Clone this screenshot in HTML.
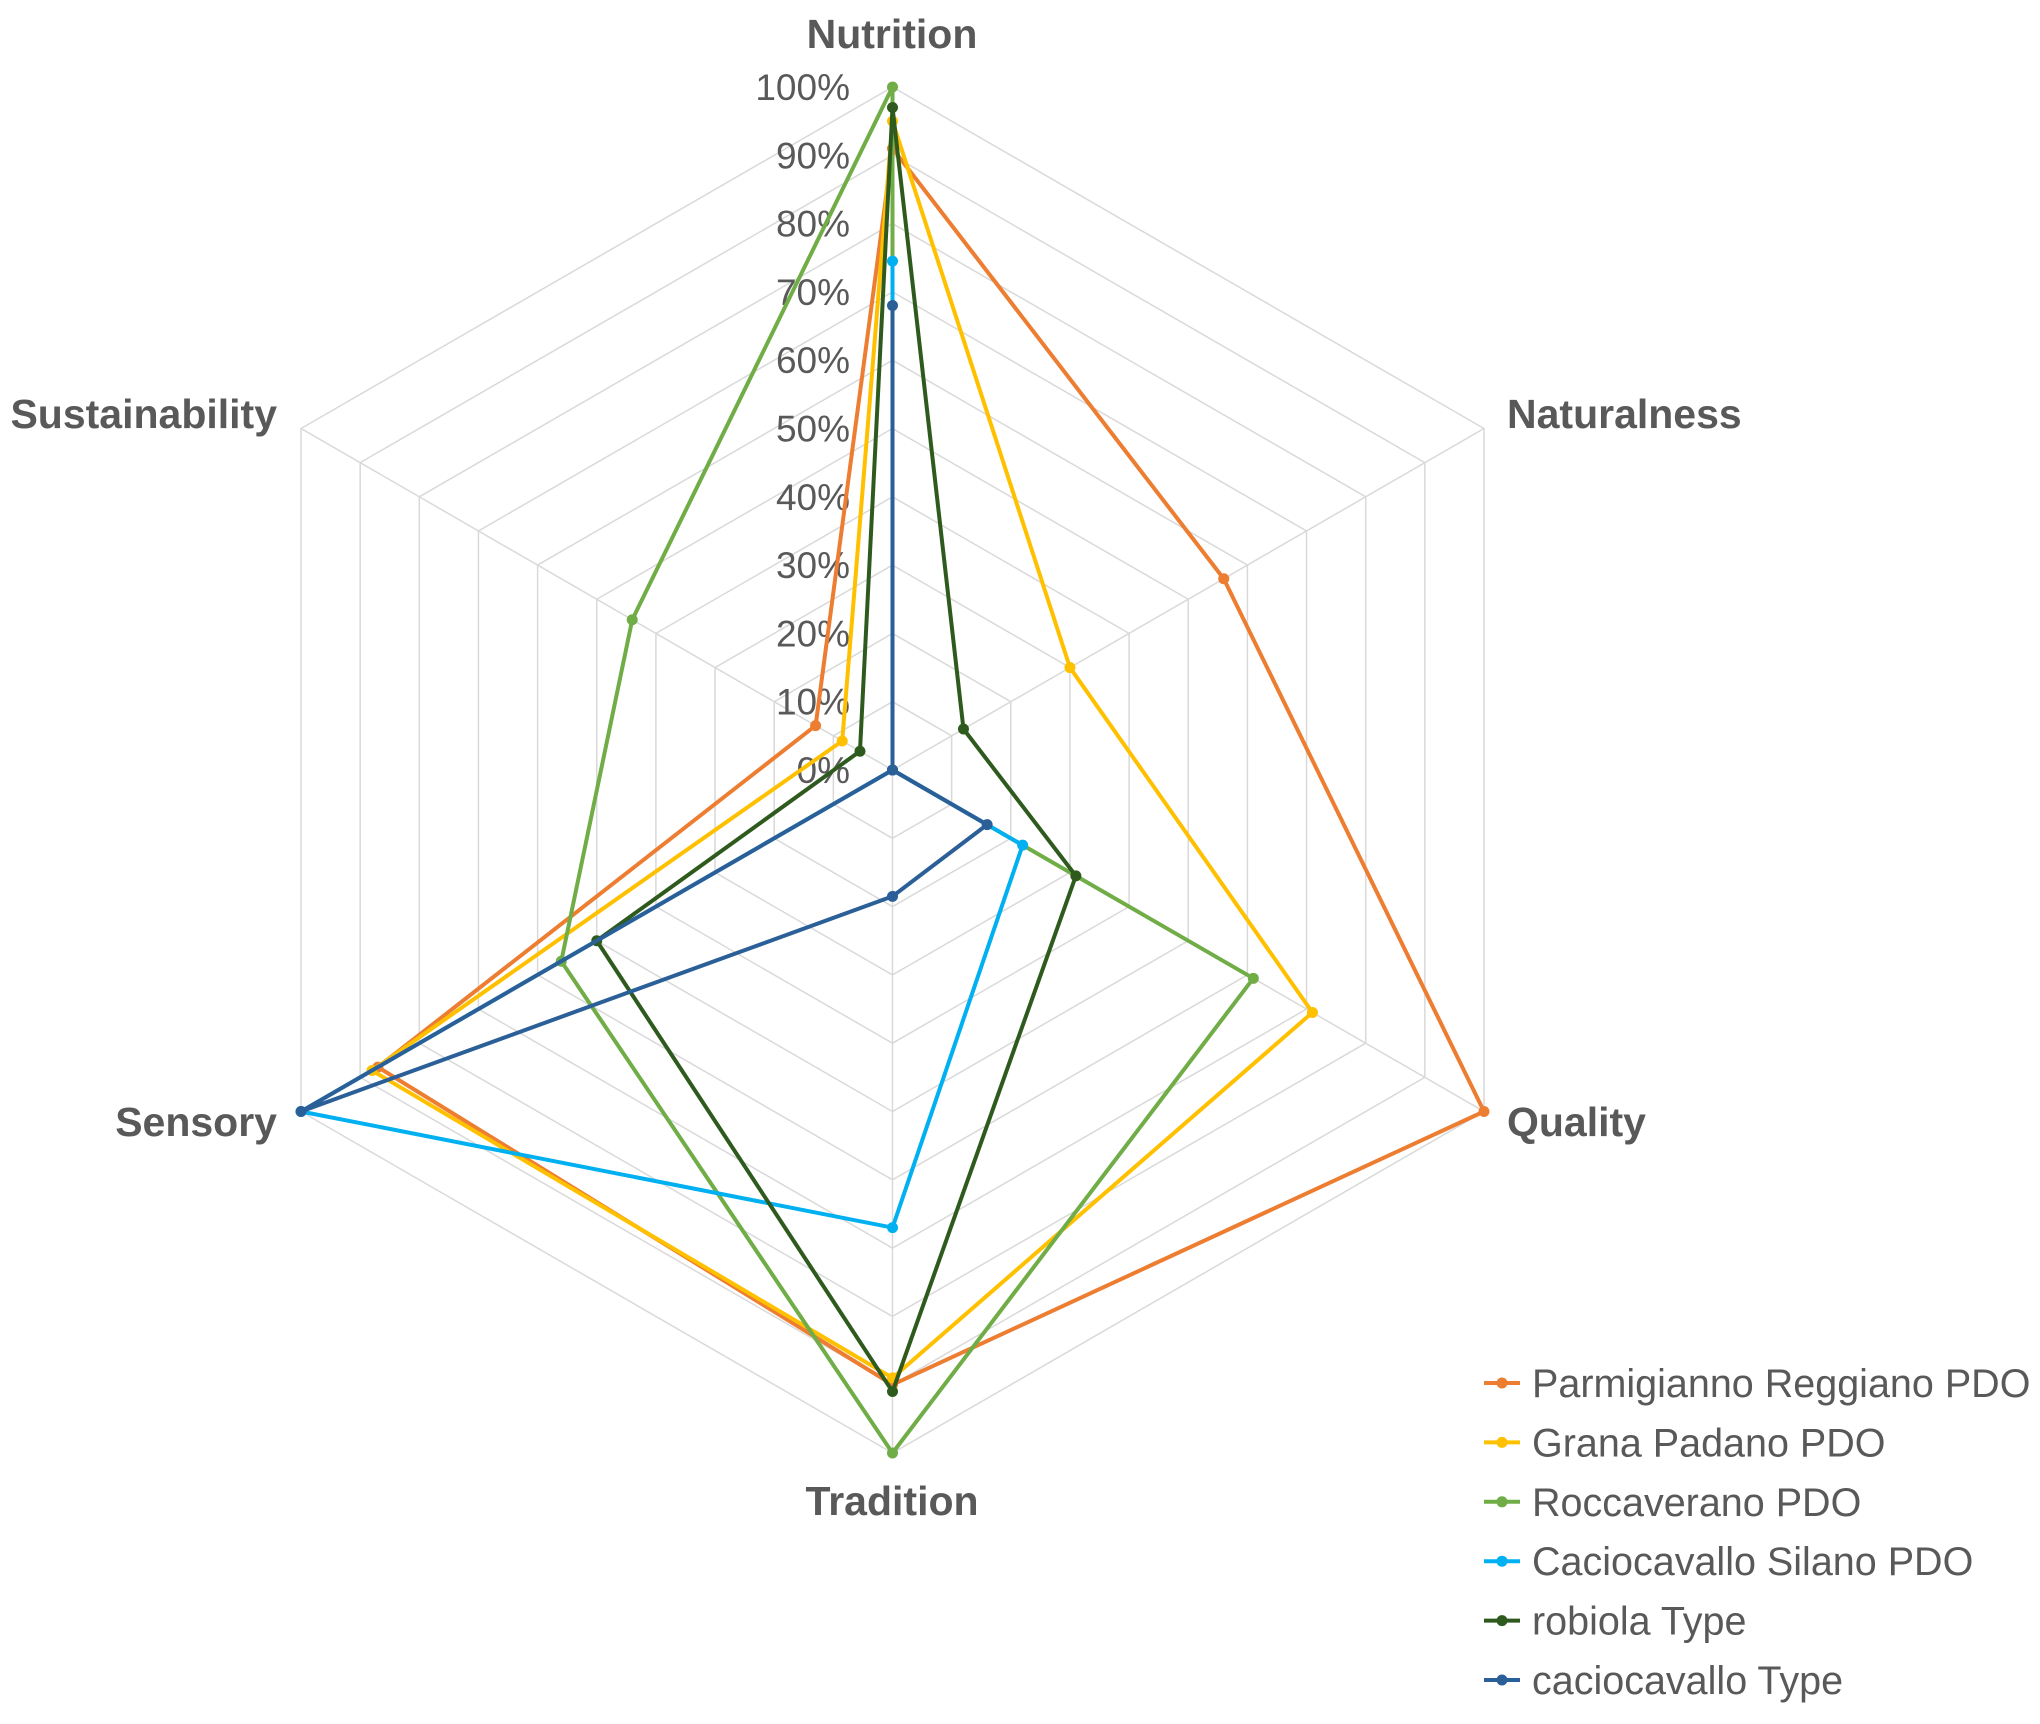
<!DOCTYPE html>
<html><head><meta charset="utf-8"><style>
html,body{margin:0;padding:0;background:#fff;}
svg{display:block;font-family:"Liberation Sans",Arial,sans-serif;}
</style></head><body>
<svg id="chart" width="2040" height="1724" viewBox="0 0 2040 1724" xmlns="http://www.w3.org/2000/svg">
<g id="grid"></g>
<g id="ticks"></g>
<g id="axes"></g>
<g id="series"></g>
<g id="legend"></g>
</svg>
<script>
const categories = ["Nutrition","Naturalness","Quality","Tradition","Sensory","Sustainability"];
const tickLabels = ["0%","10%","20%","30%","40%","50%","60%","70%","80%","90%","100%"];
const seriesNames = ["Parmigianno Reggiano PDO","Grana Padano PDO","Roccaverano PDO","Caciocavallo Silano PDO","robiola Type","caciocavallo Type"];
const parmigiano = [0.91,0.56,1.00,0.90,0.87,0.13];
const grana = [0.95,0.30,0.71,0.89,0.88,0.085];
const roccaverano = [1.00,0.00,0.61,1.00,0.56,0.44];
const silano = [0.745,0.00,0.22,0.67,1.00,0.00];
const robiola = [0.97,0.12,0.31,0.91,0.50,0.055];
const cacioType = [0.68,0.00,0.16,0.185,1.00,0.00];
const seriesValues = [parmigiano,grana,roccaverano,silano,robiola,cacioType];
const colors = ["#ED7D31","#FFC000","#70AD47","#00B0F0","#2F5A1E","#2A5F98"];

const NS="http://www.w3.org/2000/svg";
const cx=892.5, cy=770, R=683;
function pt(i,v){const a=-Math.PI/2+i*Math.PI/3;return [cx+R*v*Math.cos(a), cy+R*v*Math.sin(a)];}
function mk(tag,attrs,parent){const e=document.createElementNS(NS,tag);for(const k in attrs)e.setAttribute(k,attrs[k]);parent.appendChild(e);return e;}

const grid=document.getElementById('grid');
for(let t=1;t<tickLabels.length;t++){
  const v=t/(tickLabels.length-1);
  const p=categories.map((c,i)=>pt(i,v).join(',')).join(' ');
  const el=mk('polygon',{points:p,fill:'none',stroke:'#d9d9d9','stroke-width':1.5},grid);
  
  
}
categories.forEach((c,i)=>{const [x,y]=pt(i,1);
  const el=mk('line',{x1:cx,y1:cy,x2:x,y2:y,stroke:'#d9d9d9','stroke-width':1.5},grid);
  
  
});

const ticks=document.getElementById('ticks');
tickLabels.forEach((l,t)=>{const v=t/(tickLabels.length-1);
  const el=mk('text',{x:850,y:cy-R*v+13,'text-anchor':'end','font-size':37,fill:'#595959'},ticks);
  el.textContent=l;
  
  
});

const axes=document.getElementById('axes');
const labelPos=[[892,48,'middle'],[1507,428,'start'],[1507,1136,'start'],[892,1515,'middle'],[277,1136,'end'],[277,428,'end']];
categories.forEach((c,i)=>{const [x,y,a]=labelPos[i];
  const el=mk('text',{x:x,y:y,'text-anchor':a,'font-size':41,'font-weight':'bold',fill:'#595959'},axes);
  el.textContent=c;
  
  
});

const sg=document.getElementById('series');
seriesValues.forEach((vals,s)=>{
  const p=vals.map((v,i)=>pt(i,v).join(',')).join(' ');
  const pl=mk('polygon',{points:p,fill:'none',stroke:colors[s],'stroke-width':4,'stroke-linejoin':'round'},sg);
  
  
  vals.forEach((v,i)=>{const [x,y]=pt(i,v);
    const c=mk('circle',{cx:x,cy:y,r:5.5,fill:colors[s]},sg);
    
    
  });
});

const lg=document.getElementById('legend');
seriesNames.forEach((n,s)=>{const y=1383+s*59.4;
  const g=mk('g',{},lg);
  
  
  mk('line',{x1:1484,y1:y,x2:1520,y2:y,stroke:colors[s],'stroke-width':4},g);
  mk('circle',{cx:1502,cy:y,r:5.5,fill:colors[s]},g);
  const t=mk('text',{x:1532,y:y+14,'font-size':39.5,fill:'#595959'},g);
  t.textContent=n;
});
</script>
</body></html>
